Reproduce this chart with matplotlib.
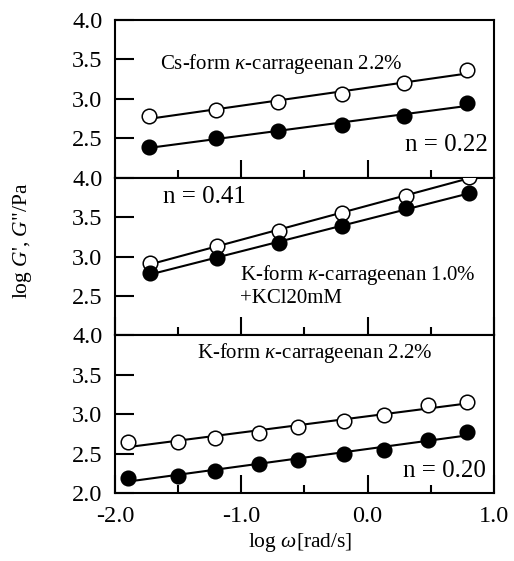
import numpy as np
import matplotlib
matplotlib.use("Agg")
import matplotlib.pyplot as plt
from matplotlib.ticker import MultipleLocator

plt.rcParams['font.family'] = ['Liberation Serif', 'DejaVu Serif']
plt.rcParams['mathtext.fontset'] = 'custom'
plt.rcParams['mathtext.rm'] = 'Liberation Serif'
plt.rcParams['mathtext.it'] = 'Liberation Serif:italic'

# Cs-form kappa-carrageenan 2.2%
cs_x = [-1.73, -1.20, -0.71, -0.20, 0.29, 0.79]
cs_open = [2.78, 2.86, 2.96, 3.06, 3.20, 3.36]
cs_fill = [2.39, 2.50, 2.59, 2.67, 2.78, 2.95]

# K-form kappa-carrageenan 1.0% + KCl 20mM
kcl_x = [-1.72, -1.19, -0.70, -0.20, 0.30, 0.80]
kcl_open = [2.92, 3.13, 3.32, 3.55, 3.77, 4.01]
kcl_fill = [2.79, 2.98, 3.17, 3.39, 3.61, 3.80]

# K-form kappa-carrageenan 2.2%
k_x = [-1.90, -1.50, -1.21, -0.86, -0.55, -0.19, 0.13, 0.48, 0.79]
k_open = [2.65, 2.65, 2.70, 2.76, 2.84, 2.91, 2.99, 3.12, 3.15]
k_fill = [2.19, 2.22, 2.28, 2.37, 2.42, 2.50, 2.55, 2.67, 2.78]

panels = [
    (cs_x, cs_open, cs_fill),
    (kcl_x, kcl_open, kcl_fill),
    (k_x, k_open, k_fill),
]

fig = plt.figure(figsize=(5.14, 5.61), dpi=100)
gs = fig.add_gridspec(3, 1, left=0.2237, right=0.961, top=0.9643, bottom=0.1212, hspace=0)
axes = [fig.add_subplot(gs[i]) for i in range(3)]

for i, (ax, (x, y_open, y_fill)) in enumerate(zip(axes, panels)):
    x = np.array(x)
    for y, face in [(y_open, 'white'), (y_fill, 'black')]:
        # straight fit line through each series
        k, b = np.polyfit(x, y, 1)
        ax.plot([x[0], x[-1]], [k * x[0] + b, k * x[-1] + b], color='black', lw=1.5, zorder=2)
        ax.plot(x, y, 'o', ms=10.5, mfc=face, mec='black', mew=1.1, zorder=3)

    ax.set_xlim(-2.0, 1.0)
    ax.set_ylim(2.0, 4.0)
    if i < 2:
        ax.set_yticks([2.5, 3.0, 3.5, 4.0])
    else:
        ax.set_yticks([2.0, 2.5, 3.0, 3.5, 4.0])
    ax.set_yticklabels(['%.1f' % v for v in ax.get_yticks()])
    ax.xaxis.set_major_locator(MultipleLocator(1.0))
    ax.xaxis.set_minor_locator(MultipleLocator(0.5))
    ax.tick_params(axis='y', which='major', direction='in', length=14, width=1.5,
                   labelsize=17.5, pad=9, right=False)
    ax.tick_params(axis='x', which='major', direction='in', length=13, width=1.5,
                   labelsize=17.5, pad=9, top=False)
    ax.tick_params(axis='x', which='minor', direction='in', length=6, width=1.5, top=False)
    if i < 2:
        ax.tick_params(axis='x', labelbottom=False)
    for s in ax.spines.values():
        s.set_linewidth(1.5)

axes[2].set_xticks([-2.0, -1.0, 0.0, 1.0])
axes[2].set_xticklabels(['-2.0', '-1.0', '0.0', '1.0'])

axes[0].text(-1.64, 3.44, r'Cs-form $\kappa$-carrageenan 2.2%', fontsize=15, va='center', ha='left')
axes[0].text(0.95, 2.42, 'n = 0.22', fontsize=18, va='center', ha='right')
axes[1].text(-1.62, 3.75, 'n = 0.41', fontsize=18, va='center', ha='left')
axes[1].text(-1.01, 2.76, r'K-form $\kappa$-carrageenan 1.0%', fontsize=15, va='center', ha='left')
axes[1].text(-1.01, 2.47, '+KCl20mM', fontsize=15, va='center', ha='left')
axes[2].text(-1.35, 3.78, r'K-form $\kappa$-carrageenan 2.2%', fontsize=15, va='center', ha='left')
axes[2].text(0.94, 2.28, 'n = 0.20', fontsize=18, va='center', ha='right')

fig.text(300 / 514, 1 - 543 / 561, r'log $\omega$[rad/s]', fontsize=15.5, ha='center', va='center')
fig.text(22 / 514, 1 - 241 / 561, 'log $G$\', $G$"/Pa', fontsize=15.5, ha='center', va='center',
         rotation=90)

fig.savefig('out.png', dpi=100)
